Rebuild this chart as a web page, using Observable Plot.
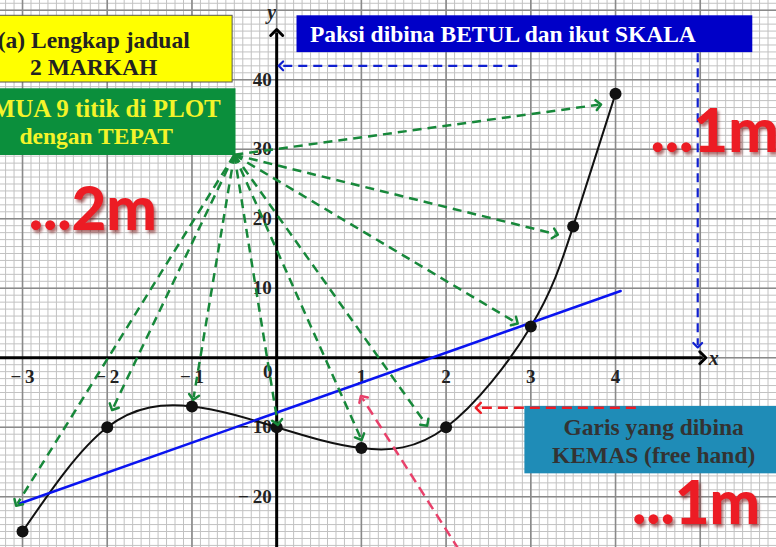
<!DOCTYPE html>
<html>
<head>
<meta charset="utf-8">
<script src="https://cdn.jsdelivr.net/npm/d3@7"></script>
<script src="https://cdn.jsdelivr.net/npm/@observablehq/plot@0.6"></script>
<style>
  html, body { margin: 0; padding: 0; background: #ffffff; }
  #chart svg { display: block; }
</style>
</head>
<body>
<div id="chart"></div>
<script>
// ---- data ----
const pointX = [-3, -2, -1, 0, 1, 2, 3, 3.5, 4];
const pointY = [-25, -10, -7, -10, -13, -10, 4.5, 18.9, 38];

// straight line drawn by the student
const lineX = [-3.04, 4.06];
const lineY = [-21, 9.6];

// axis tick labels
const xTicks = [-3, -2, -1, 1, 2, 3, 4];
const yTicks = [40, 30, 20, 10, -10, -20];

// annotation boxes (data units)
const boxX1 = [-3.4, -3.4, 0.24, 2.93];
const boxX2 = [-0.52, -0.48, 5.62, 6.0];
const boxY1 = [39.6, 29.1, 43.9, -16.7];
const boxY2 = [49.2, 38.7, 49.2, -7.0];
const boxFill = ["#ffff00", "#0b8f3c", "#0000c8", "#1f8cb7"];
const boxStroke = ["#555555", "none", "none", "none"];

// annotation text lines
const noteText = ["(a) Lengkap jadual", "2 MARKAH", "dengan TEPAT",
                  "Paksi dibina BETUL dan ikut SKALA", "Garis yang dibina", "KEMAS (free hand)"];
const noteX = [-2.16, -2.16, -2.13, 2.67, 4.45, 4.45];
const noteY = [45.7, 41.7, 31.9, 46.5, -10.0, -14.1];
const noteFill = ["#222222", "#222222", "#f4f42a", "#ffffff", "#333333", "#333333"];
// first line of the green box, partly cut off by the left edge
const greenFirstLine = "SEMUA 9 titik di PLOT";

// big red marks text
const markText = ["...2m", "...1m", "...1m"];
const markX = [-2.17, 5.17, 4.95];
const markY = [21.2, 32.4, -21.2];

// green dashed arrows: from hub to each plotted point
const hubX = -0.5, hubY = 29.2;
const greenToX = [-3.06, -1.93, -0.98, 0.01, 0.99, 1.76, 2.82, 3.29, 3.8];
const greenToY = [-21.0, -7.2, -5.7, -9.3, -11.5, -9.5, 5.1, 17.8, 36.4];

// other dashed arrows
const blueArrowX1 = [2.84, 4.97], blueArrowY1 = [42.0, 43.8];
const blueArrowX2 = [0.05, 4.97], blueArrowY2 = [42.0, 1.8];
const redArrow = {x1: 4.24, y1: -7.2, x2: 2.38, y2: -7.2};
const pinkArrow = {x1: 2.15, y1: -27.6, x2: 1.01, y2: -5.8};

// ---- scales ----
const xDomain = [-3.26, 5.9];
const yDomain = [-27.3, 51.4];

const minorX = d3.range(-33, 60).map(i => i / 10);
const majorX = d3.range(-3, 6);
const minorY = d3.range(-27, 52);
const majorY = d3.range(-20, 51, 10);

const points = pointX.map((x, i) => ({x, y: pointY[i]}));
const line = lineX.map((x, i) => ({x, y: lineY[i]}));
const boxes = boxX1.map((x1, i) => ({x1, x2: boxX2[i], y1: boxY1[i], y2: boxY2[i], fill: boxFill[i], stroke: boxStroke[i]}));
const notes = noteText.map((t, i) => ({t, x: noteX[i], y: noteY[i], fill: noteFill[i]}));
const marksBig = markText.map((t, i) => ({t, x: markX[i], y: markY[i]}));
const greens = greenToX.map((x, i) => ({x1: hubX, y1: hubY, x2: x, y2: greenToY[i]}));
const blues = blueArrowX1.map((x1, i) => ({x1, y1: blueArrowY1[i], x2: blueArrowX2[i], y2: blueArrowY2[i]}));

const fmt = v => v < 0 ? "\u2212\u2009" + Math.abs(v) : String(v);
const serif = "'Liberation Serif', 'DejaVu Serif', serif";

const plot = Plot.plot({
  width: 776,
  height: 547,
  margin: 0,
  style: {background: "#ffffff", overflow: "hidden"},
  x: {domain: xDomain, axis: null},
  y: {domain: yDomain, axis: null},
  marks: [
    // graph paper
    Plot.ruleX(minorX, {stroke: "#c2c2c2", strokeWidth: 1}),
    Plot.ruleY(minorY, {stroke: "#c2c2c2", strokeWidth: 1}),
    Plot.ruleX(majorX, {stroke: "#8a8a8a", strokeWidth: 1.6}),
    Plot.ruleY(majorY, {stroke: "#8a8a8a", strokeWidth: 1.6}),
    // axes
    Plot.link([{x1: -3.3, y1: 0, x2: 5.03, y2: 0}], {x1: "x1", y1: "y1", x2: "x2", y2: "y2", stroke: "#000", strokeWidth: 3, markerEnd: "arrow"}),
    Plot.link([{x1: 0, y1: -28, x2: 0, y2: 46.8}], {x1: "x1", y1: "y1", x2: "x2", y2: "y2", stroke: "#000", strokeWidth: 3, markerEnd: "arrow"}),
    Plot.text(["x"], {x: 5.16, y: 0, dy: 1, text: d => d, fontFamily: serif, fontStyle: "italic", fontWeight: "bold", fontSize: 20, fill: "#222"}),
    Plot.text(["y"], {x: -0.06, y: 49.6, text: d => d, fontFamily: serif, fontStyle: "italic", fontWeight: "bold", fontSize: 20, fill: "#222"}),
    // tick labels
    Plot.text(xTicks, {x: d => d, y: 0, dy: 19, text: fmt, fontFamily: serif, fontWeight: "bold", fontSize: 19, fill: "#222"}),
    Plot.text([0], {x: 0, y: 0, dx: -9, dy: 14, text: fmt, fontFamily: serif, fontWeight: "bold", fontSize: 19, fill: "#222"}),
    Plot.text(yTicks, {x: 0, y: d => d, dx: -5, textAnchor: "end", text: fmt, fontFamily: serif, fontWeight: "bold", fontSize: 19, fill: "#222"}),
    // boxes
    Plot.rect(boxes, {x1: "x1", x2: "x2", y1: "y1", y2: "y2", fill: "fill", stroke: "stroke", strokeWidth: 1}),
    Plot.text(notes, {x: "x", y: "y", text: "t", fill: "fill", fontFamily: serif, fontWeight: "bold", fontSize: 23.5}),
    Plot.text([greenFirstLine], {x: -0.66, y: 35.8, textAnchor: "end", text: d => d, fill: "#f4f42a", fontFamily: serif, fontWeight: "bold", fontSize: 25}),
    // curve and student line
    Plot.line(points, {x: "x", y: "y", curve: "natural", stroke: "#111", strokeWidth: 2}),
    Plot.line(line, {x: "x", y: "y", stroke: "#0a14f0", strokeWidth: 2.5}),
    Plot.dot(points, {x: "x", y: "y", r: 6, fill: "#111", stroke: "none"}),
    // dashed annotation arrows
    Plot.link(greens, {x1: "x1", y1: "y1", x2: "x2", y2: "y2", stroke: "#17883a", strokeWidth: 2.5, strokeDasharray: "9,6", markerEnd: "arrow"}),
    Plot.link(blues, {x1: "x1", y1: "y1", x2: "x2", y2: "y2", stroke: "#1020d0", strokeWidth: 2.2, strokeDasharray: "9,6", markerEnd: "arrow"}),
    Plot.link([redArrow], {x1: "x1", y1: "y1", x2: "x2", y2: "y2", stroke: "#ee1c24", strokeWidth: 2.5, strokeDasharray: "10,6", markerEnd: "arrow"}),
    Plot.link([pinkArrow], {x1: "x1", y1: "y1", x2: "x2", y2: "y2", stroke: "#e8406a", strokeWidth: 2.5, strokeDasharray: "10,6", markerEnd: "arrow"}),
    // big red marks text
    Plot.text(marksBig, {x: "x", y: "y", text: "t", fill: "#ec1c24", fontFamily: "Lato, 'Open Sans', sans-serif", fontWeight: "900", fontSize: 60, letterSpacing: "-1px"})
  ]
});
// soft 3D shadow on the big red marks, as in the reference
const textGroups = plot.querySelectorAll('g[aria-label="text"]');
const bigGroup = textGroups[textGroups.length - 1];
bigGroup.setAttribute("style", "filter: drop-shadow(2px 3px 1.5px rgba(110,0,0,0.55));");
document.getElementById("chart").appendChild(plot);
</script>
</body>
</html>
